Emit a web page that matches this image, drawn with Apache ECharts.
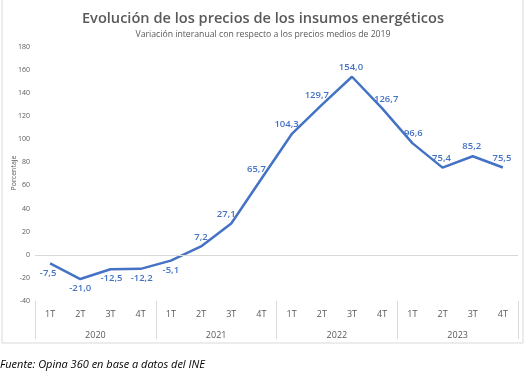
<!DOCTYPE html>
<html>
<head>
<meta charset="utf-8">
<script src="https://cdn.jsdelivr.net/npm/echarts@6/dist/echarts.min.js"></script>
<style>
html,body{margin:0;padding:0;background:#fff;}
#chart{width:526px;height:371px;}
</style>
</head>
<body>
<div id="chart"></div>
<script>
var quarters = ['1T','2T','3T','4T','1T','2T','3T','4T','1T','2T','3T','4T','1T','2T','3T','4T'];
var years = ['2020','2021','2022','2023'];
var values = [-7.5, -21.0, -12.5, -12.2, -5.1, 7.2, 27.1, 65.7, 104.3, 129.7, 154.0, 126.7, 96.6, 75.4, 85.2, 75.5];
var yTicks = {min: -40, max: 180, interval: 20};
var yAxisName = 'Porcentaje';

// label placement (style only)
var labelPos = ['bottom','bottom','bottom','bottom','bottom','top','top','top','top','top','top','top','top','top','top','top'];
var labelDx  = [-2,0,1,1,0,0,-5,-5,-5,-5,-1,4,1,-1,-1,-1];

var blue = '#4472C4';
var gray = '#595959';

var seriesData = values.map(function(v, i){
  return {
    value: v,
    label: {show: true, position: labelPos[i], offset: [labelDx[i], 0]}
  };
});

var chart = echarts.init(document.getElementById('chart'), null, {renderer:'canvas'});
chart.setOption({
  animation: false,
  backgroundColor: '#fff',
  title: [
    {text: 'Evolución de los precios de los insumos energéticos', left: 'center', top: 6,
     textStyle: {fontFamily: 'Open Sans', fontSize: 14.6, fontWeight: 600, color: gray}},
    {text: 'Variación interanual con respecto a los precios medios de 2019', left: 'center', top: 25,
     textStyle: {fontFamily: 'Open Sans', fontSize: 8.7, fontWeight: 'normal', color: gray}},
    {text: 'Fuente: Opina 360 en base a datos del INE', left: 0, top: 359, padding: 0,
     textStyle: {fontFamily: 'Open Sans', fontSize: 11, fontStyle: 'italic', fontWeight: 'normal', color: '#000'}}
  ],
  graphic: [
    {type: 'rect', shape: {x: 2, y: -2, width: 521, height: 345},
     style: {fill: 'none', stroke: '#d9d9d9', lineWidth: 1}, silent: true},
    {type: 'text', x: 14, y: 173, rotation: Math.PI / 2, silent: true,
     style: {text: yAxisName, fill: gray, font: '7px "Open Sans"', align: 'center', verticalAlign: 'middle'}}
  ],
  grid: {left: 35, right: 8, top: 46.7, bottom: 70, containLabel: false, outerBoundsMode: 'none'},
  xAxis: [
    {type: 'category', data: quarters, boundaryGap: true, position: 'bottom',
     axisLine: {show: false}, axisTick: {show: false},
     axisLabel: {color: gray, fontSize: 9, fontFamily: 'Open Sans', margin: 9, interval: 0},
     splitLine: {show: false}},
    {type: 'category', data: years, boundaryGap: true, position: 'bottom',
     axisLine: {show: false},
     axisTick: {show: true, length: 38, lineStyle: {color: '#d9d9d9', width: 1}, alignWithLabel: false},
     axisLabel: {color: gray, fontSize: 9, fontFamily: 'Open Sans', margin: 30, interval: 0},
     splitLine: {show: false}}
  ],
  yAxis: {
    type: 'value', min: yTicks.min, max: yTicks.max, interval: yTicks.interval,
    axisLine: {show: false}, axisTick: {show: false},
    axisLabel: {color: gray, fontSize: 7, fontFamily: 'Open Sans', margin: 5},
    splitLine: {show: false}
  },
  series: [{
    type: 'line', xAxisIndex: 0, data: seriesData,
    symbol: 'circle', symbolSize: 1, showSymbol: true,
    itemStyle: {color: 'rgba(0,0,0,0)', borderWidth: 0},
    lineStyle: {color: blue, width: 2.5},
    label: {show: true, color: blue, fontSize: 9.5, fontWeight: 600, fontFamily: 'Open Sans', distance: 4,
            formatter: function(p){ return p.value.toFixed(1).replace('.', ','); }},
    markLine: {silent: true, symbol: 'none', label: {show: false},
               lineStyle: {color: '#d9d9d9', width: 1, type: 'solid'},
               data: [{yAxis: 0}]},
    z: 3
  }]
});
</script>
</body>
</html>
